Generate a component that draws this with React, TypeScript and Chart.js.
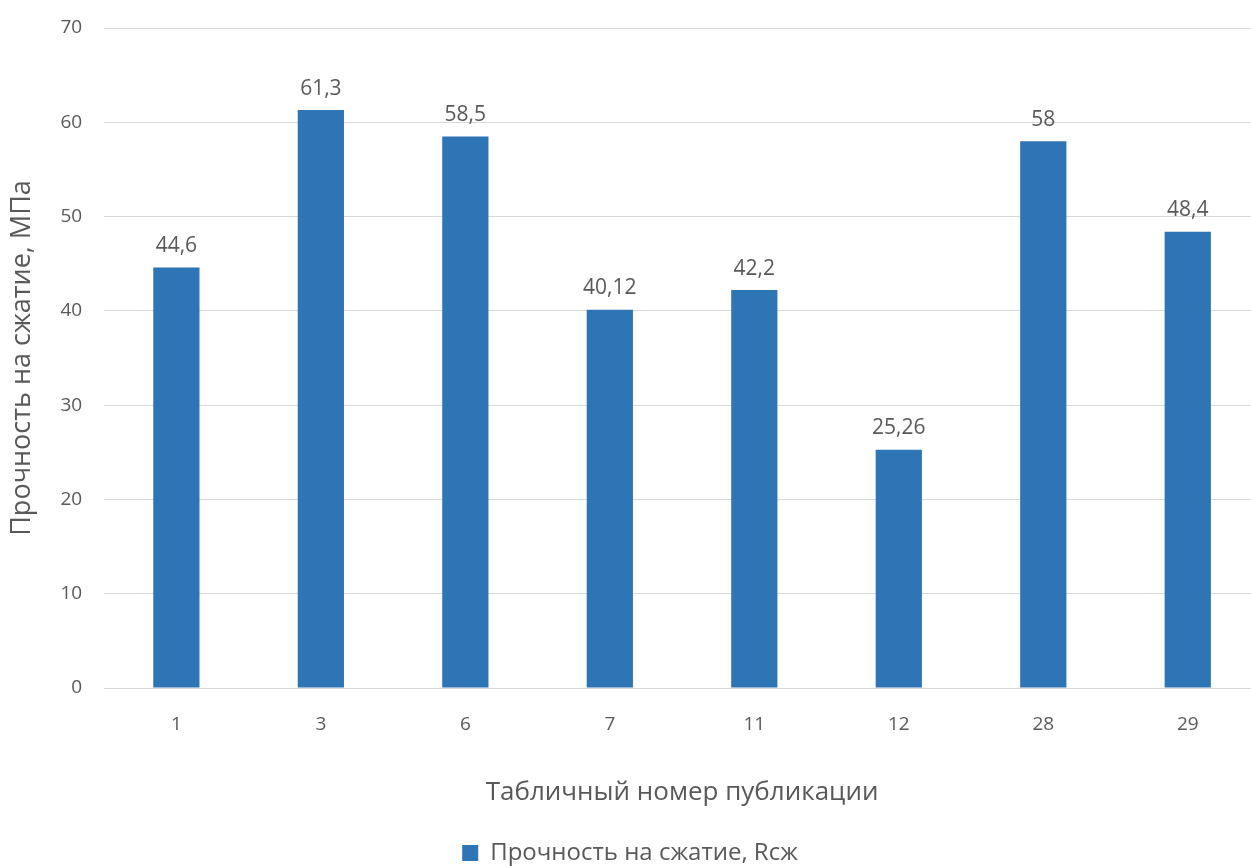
import React, { useEffect, useRef } from "react";
import { Chart, registerables } from "chart.js";

Chart.register(...registerables);

const categories = ["1", "3", "6", "7", "11", "12", "28", "29"];
const strengthValues = [44.6, 61.3, 58.5, 40.12, 42.2, 25.26, 58, 48.4];
const valueLabels = ["44,6", "61,3", "58,5", "40,12", "42,2", "25,26", "58", "48,4"];
const seriesName = "Прочность на сжатие, Rсж";
const yTitle = "Прочность на сжатие, МПа";
const xTitle = "Табличный номер публикации";

const FONT = "'Open Sans', 'Noto Sans', sans-serif";
const TEXT = "#595959";
const BLUE = "#2E75B6";

const labelPlugin = {
  id: "barValueLabels",
  afterDatasetsDraw(chart: any) {
    const ctx = chart.ctx;
    const meta = chart.getDatasetMeta(0);
    ctx.save();
    ctx.font = `21px ${FONT}`;
    ctx.fillStyle = TEXT;
    ctx.textAlign = "center";
    ctx.textBaseline = "bottom";
    meta.data.forEach((bar: any, i: number) => {
      ctx.fillText(valueLabels[i], bar.x, bar.y - 11);
    });
    ctx.restore();
  },
};

export default function App() {
  const ref = useRef<HTMLCanvasElement>(null);
  useEffect(() => {
    if (!ref.current) return;
    const chart = new Chart(ref.current, {
      type: "bar",
      data: {
        labels: categories,
        datasets: [
          {
            label: seriesName,
            data: strengthValues,
            backgroundColor: BLUE,
            borderWidth: 0,
            categoryPercentage: 1,
            barPercentage: 0.32,
          },
        ],
      },
      options: {
        animation: false,
        responsive: false,
        maintainAspectRatio: false,
        layout: { padding: { top: 28, left: 0, right: 0, bottom: -9 } },
        plugins: {
          tooltip: { enabled: false },
          legend: {
            position: "bottom",
            labels: {
              font: { family: FONT, size: 24 },
              color: TEXT,
              boxWidth: 16,
              boxHeight: 16,
              padding: 0,
            },
          },
        },
        scales: {
          x: {
            grid: { display: false, drawTicks: false },
            border: { color: "#d9d9d9", width: 1 },
            ticks: { font: { family: FONT, size: 19 }, color: TEXT, padding: 25 },
            title: {
              display: true,
              text: xTitle,
              font: { family: FONT, size: 26 },
              color: TEXT,
              padding: { top: 16, bottom: 33 },
            },
          },
          y: {
            min: 0,
            max: 70,
            afterFit: (scale: any) => {
              scale.paddingTop = 0;
            },
            grid: { color: "#d9d9d9", lineWidth: 1, drawTicks: false },
            border: { display: false },
            ticks: { stepSize: 10, font: { family: FONT, size: 19 }, color: TEXT, padding: 22 },
            title: {
              display: true,
              text: yTitle,
              font: { family: FONT, size: 27 },
              color: TEXT,
              padding: { top: 6, bottom: 0 },
            },
          },
        },
      },
      plugins: [labelPlugin],
    });
    return () => chart.destroy();
  }, []);
  return (
    <div style={{ position: "fixed", left: 0, top: 0, width: 1251, height: 866, overflow: "hidden", background: "#fff" }}>
      <canvas ref={ref} width={1260} height={866} style={{ display: "block" }} />
    </div>
  );
}
